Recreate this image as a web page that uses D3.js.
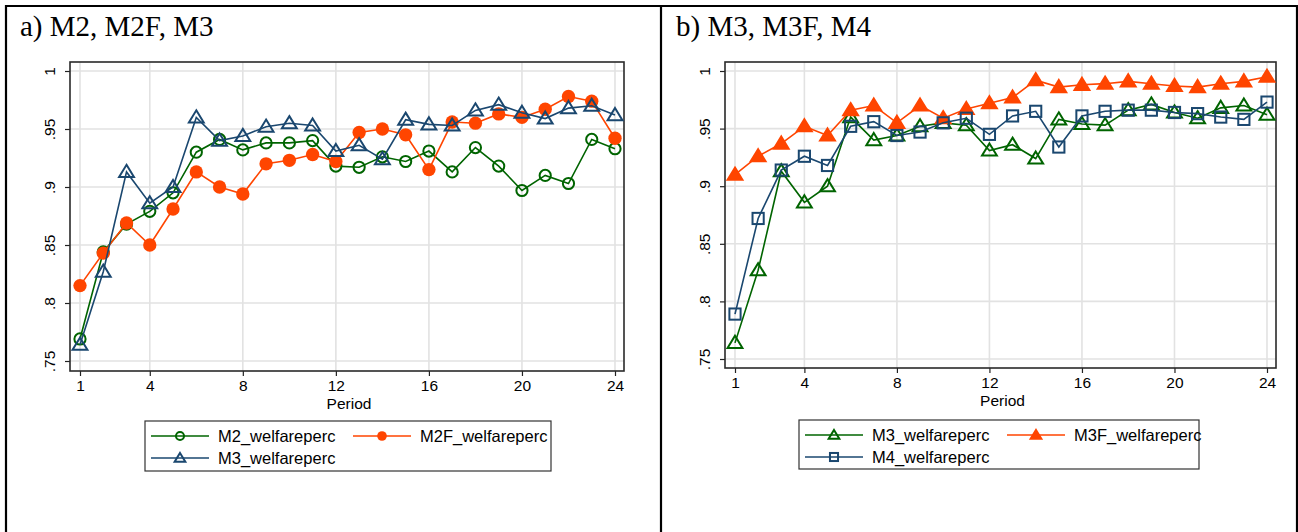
<!DOCTYPE html>
<html>
  <head>
    <meta charset="utf-8" />
    <title>Welfare percentage by period</title>
    <style>
      body {
        margin: 0;
        background: #fff;
      }
      svg text {
        font-family: "Liberation Sans", Arial, sans-serif;
      }
      .title {
        font-family: "Liberation Serif", "Times New Roman", serif !important;
        font-size: 29px;
      }
    </style>
    <script src="https://d3js.org/d3.v7.min.js"></script>
  </head>
  <body>
    <div id="chart"></div>
    <script type="text/javascript">
      // data
      var periods = d3.range(1, 25);
      var xTicks = [1, 4, 8, 12, 16, 20, 24];
      var yTicks = [0.75, 0.8, 0.85, 0.9, 0.95, 1];
      var yTickLabels = [".75", ".8", ".85", ".9", ".95", "1"];

      var m2 = [0.769, 0.844, 0.868, 0.879, 0.895, 0.930, 0.941, 0.932, 0.938, 0.938, 0.940, 0.918,
                0.917, 0.926, 0.922, 0.931, 0.913, 0.934, 0.918, 0.897, 0.910, 0.903, 0.941, 0.933];
      var m2f = [0.815, 0.843, 0.869, 0.850, 0.881, 0.913, 0.900, 0.894, 0.920, 0.923, 0.928, 0.922,
                 0.947, 0.950, 0.945, 0.915, 0.956, 0.955, 0.963, 0.960, 0.967, 0.978, 0.974, 0.942];
      var m3 = [0.764, 0.827, 0.913, 0.886, 0.900, 0.960, 0.940, 0.944, 0.952, 0.955, 0.953, 0.931,
                0.936, 0.924, 0.958, 0.954, 0.953, 0.966, 0.971, 0.964, 0.959, 0.968, 0.970, 0.962];
      var m3f = [0.910, 0.926, 0.937, 0.952, 0.944, 0.966, 0.970, 0.955, 0.970, 0.959, 0.967, 0.972,
                 0.977, 0.992, 0.986, 0.988, 0.989, 0.991, 0.989, 0.987, 0.986, 0.989, 0.991, 0.995];
      var m4 = [0.789, 0.872, 0.914, 0.926, 0.918, 0.952, 0.956, 0.944, 0.947, 0.955, 0.959, 0.945,
                0.961, 0.965, 0.934, 0.961, 0.965, 0.966, 0.966, 0.964, 0.963, 0.960, 0.958, 0.973];

      var green = "#006400";
      var orange = "#ff4500";
      var navy = "#1a476f";

      var W = 1298, H = 532;
      var svg = d3.select("#chart").append("svg").attr("width", W).attr("height", H);

      // outer frame and divider
      svg.append("path")
        .attr("d", "M6,533V6H1297V533")
        .attr("fill", "none")
        .attr("stroke", "#000")
        .attr("stroke-width", 2.2);
      svg.append("line")
        .attr("x1", 661).attr("x2", 661).attr("y1", 6).attr("y2", 533)
        .attr("stroke", "#000").attr("stroke-width", 2.2);

      function marker(g, shape, color, size) {
        var r = size;
        if (shape == "circle" || shape == "dot") {
          g.append("circle")
            .attr("r", shape == "dot" ? r * 1.15 : r)
            .attr("fill", shape == "dot" ? color : "#fff")
            .attr("fill-opacity", shape == "dot" ? 1 : 0)
            .attr("stroke", color)
            .attr("stroke-width", shape == "dot" ? 0 : 2);
        } else if (shape == "triangle" || shape == "filltri") {
          var s = r * 1.25;
          g.append("path")
            .attr("d", "M0," + (-s * 1.05) + "L" + (s * 1.1) + "," + (s * 0.75) + "L" + (-s * 1.1) + "," + (s * 0.75) + "Z")
            .attr("fill", shape == "filltri" ? color : "none")
            .attr("stroke", color)
            .attr("stroke-width", 2)
            .attr("stroke-linejoin", "miter");
        } else if (shape == "square") {
          g.append("rect")
            .attr("x", -r).attr("y", -r)
            .attr("width", 2 * r).attr("height", 2 * r)
            .attr("fill", "none")
            .attr("stroke", color)
            .attr("stroke-width", 2);
        }
      }

      function drawPanel(p) {
        var g = svg.append("g");

        g.append("text")
          .attr("class", "title")
          .attr("x", p.titleX)
          .attr("y", 36)
          .attr("fill", "#000")
          .text(p.title);

        var x = d3.scaleLinear().domain([1, 24]).range([p.x1, p.x24]);
        var y = d3.scaleLinear().domain([0.75, 1]).range([p.y75, p.y1]);

        // grid
        g.selectAll(".vg").data(xTicks).enter().append("line")
          .attr("x1", function (d) { return x(d); })
          .attr("x2", function (d) { return x(d); })
          .attr("y1", p.top).attr("y2", p.bottom)
          .attr("stroke", "#e2e2e2").attr("stroke-width", 1.6);
        g.selectAll(".hg").data(yTicks).enter().append("line")
          .attr("x1", p.left).attr("x2", p.right)
          .attr("y1", function (d) { return y(d); })
          .attr("y2", function (d) { return y(d); })
          .attr("stroke", "#e2e2e2").attr("stroke-width", 1.6);

        // axes
        var xAxis = d3.axisBottom(x).tickValues(xTicks).tickSize(5).tickPadding(4);
        var gx = g.append("g").attr("transform", "translate(0," + p.bottom + ")").call(xAxis);
        gx.select(".domain").remove();
        gx.selectAll("text").attr("font-size", 15.5).attr("fill", "#000")
          .attr("font-family", "Liberation Sans, Arial, sans-serif");
        gx.selectAll("line").attr("stroke", "#222").attr("stroke-width", 1.2);

        var yAxis = d3.axisLeft(y).tickValues(yTicks).tickSize(5)
          .tickFormat(function (d, i) { return yTickLabels[i]; });
        var gy = g.append("g").attr("transform", "translate(" + p.left + ",0)").call(yAxis);
        gy.select(".domain").remove();
        gy.selectAll("line").attr("stroke", "#222").attr("stroke-width", 1.2);
        gy.selectAll("text")
          .attr("font-size", 15.5).attr("fill", "#000")
          .attr("font-family", "Liberation Sans, Arial, sans-serif")
          .attr("text-anchor", "middle")
          .attr("x", 0).attr("dy", 0)
          .attr("transform", "translate(-15,0) rotate(-90)");

        g.append("text")
          .attr("x", (p.left + p.right) / 2 + 2)
          .attr("y", p.bottom + 38)
          .attr("text-anchor", "middle")
          .attr("font-size", 15.5)
          .attr("fill", "#000")
          .text("Period");

        // frame
        g.append("rect")
          .attr("x", p.left).attr("y", p.top)
          .attr("width", p.right - p.left).attr("height", p.bottom - p.top)
          .attr("fill", "none").attr("stroke", "#2a2a2a").attr("stroke-width", 1.6);

        var line = d3.line()
          .x(function (d, i) { return x(periods[i]); })
          .y(function (d) { return y(d); });

        p.series.forEach(function (s) {
          g.append("path")
            .datum(s.values)
            .attr("d", line)
            .attr("fill", "none")
            .attr("stroke", s.color)
            .attr("stroke-width", 1.6);
          s.values.forEach(function (v, i) {
            var m = g.append("g").attr("transform", "translate(" + x(periods[i]) + "," + y(v) + ")");
            marker(m, s.shape, s.color, s.size);
          });
        });

        // legend
        var L = p.legend;
        g.append("rect")
          .attr("x", L.x).attr("y", L.y)
          .attr("width", L.w).attr("height", L.h)
          .attr("fill", "#fff").attr("stroke", "#333").attr("stroke-width", 1.2);
        var slots = [
          { cx: L.x + 6, cy: L.y + 15 },
          { cx: L.x + L.col2, cy: L.y + 15 },
          { cx: L.x + 6, cy: L.y + 37 }
        ];
        p.series.forEach(function (s, i) {
          var sl = slots[i];
          g.append("line")
            .attr("x1", sl.cx).attr("x2", sl.cx + 58)
            .attr("y1", sl.cy).attr("y2", sl.cy)
            .attr("stroke", s.color).attr("stroke-width", 1.6);
          var m = g.append("g").attr("transform", "translate(" + (sl.cx + 29) + "," + sl.cy + ")");
          marker(m, s.shape, s.color, s.size * 0.72);
          g.append("text")
            .attr("x", sl.cx + 67)
            .attr("y", sl.cy + 6)
            .attr("font-size", 16.5)
            .attr("fill", "#000")
            .text(s.name);
        });
      }

      drawPanel({
        title: "a) M2, M2F, M3",
        titleX: 20,
        left: 70, right: 624, top: 62, bottom: 371,
        x1: 80, x24: 615, y75: 361, y1: 71,
        series: [
          { name: "M2_welfareperc", values: m2, color: green, shape: "circle", size: 5.6 },
          { name: "M2F_welfareperc", values: m2f, color: orange, shape: "dot", size: 5.8 },
          { name: "M3_welfareperc", values: m3, color: navy, shape: "triangle", size: 5.4 }
        ],
        legend: { x: 145, y: 421, w: 406, h: 50, col2: 208 }
      });

      drawPanel({
        title: "b) M3, M3F, M4",
        titleX: 676,
        left: 725, right: 1276, top: 62, bottom: 368,
        x1: 735, x24: 1267, y75: 359, y1: 71,
        series: [
          { name: "M3_welfareperc", values: m3, color: green, shape: "triangle", size: 5.4 },
          { name: "M3F_welfareperc", values: m3f, color: orange, shape: "filltri", size: 5.4 },
          { name: "M4_welfareperc", values: m4, color: navy, shape: "square", size: 5.6 }
        ],
        legend: { x: 799, y: 420, w: 400, h: 49, col2: 208 }
      });
    </script>
  </body>
</html>
